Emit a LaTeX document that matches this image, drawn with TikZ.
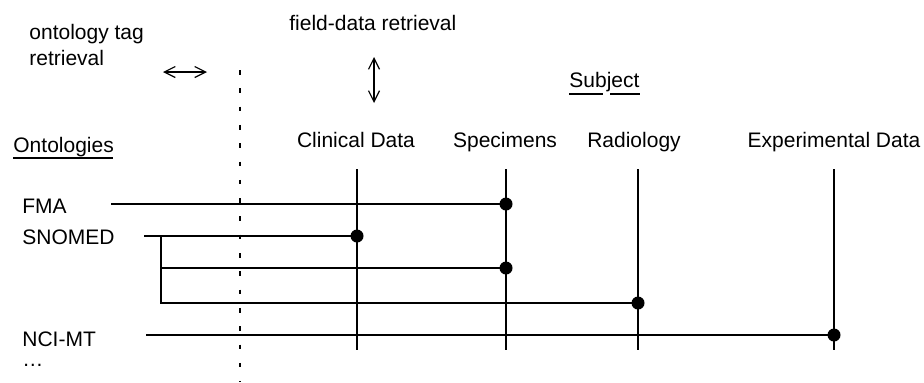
\documentclass[tikz,border=0pt]{standalone}
\usepackage{fontspec}
\setmainfont{Liberation Sans}
\usetikzlibrary{arrows.meta}
\begin{document}
\begin{tikzpicture}[x=0.5pt,y=-0.5pt,
  lbl/.style={inner sep=0pt, font=\fontsize{10.5}{13}\selectfont},
  wire/.style={line width=0.75pt},
  uline/.style={line width=0.6pt},
  sep/.style={line width=0.8pt, dash pattern=on 2.3pt off 6.85pt},
  dbl/.style={line width=0.6pt, {Straight Barb[length=5.5pt,width=5.5pt]}-{Straight Barb[length=5.5pt,width=5.5pt]}},
  dotn/.style={circle, fill=black, inner sep=0pt, minimum size=6.5pt}]
\useasboundingbox (0,0) rectangle (924,382);
% top labels
\node[lbl, anchor=base west] (fdr) at (289,30) {field-data retrieval};
\node[lbl, anchor=base west, align=left] (otr) at (29,65) {ontology tag\\retrieval};
\coordinate (ha1) at (163,72); \coordinate (ha2) at (207,72);
\draw[dbl] (ha1) -- (ha2);
\coordinate (va1) at (374,57); \coordinate (va2) at (374,103);
\draw[dbl] (va1) -- (va2);
% separator
\coordinate (s1) at (240,70); \coordinate (s2) at (240,382);
\draw[sep] (s1) -- (s2);
% headings
\node[lbl, anchor=base west] (ont) at (13,152) {Ontologies};
\draw[uline] (13,158) -- (113,158);
\node[lbl, anchor=base west] (subj) at (569,87) {Subject};
\draw[uline] (569,94) -- (603,94);
\draw[uline] (610,94) -- (640,94);
% column labels
\node[lbl, anchor=base] (clin) at (356,147) {Clinical Data};
\node[lbl, anchor=base] (spec) at (505,147) {Specimens};
\node[lbl, anchor=base] (radi) at (634,147) {Radiology};
\node[lbl, anchor=base] (expd) at (834,147) {Experimental Data};
% column lines
\coordinate (clinT) at (357,169); \coordinate (clinB) at (357,350);
\coordinate (specT) at (506,169); \coordinate (specB) at (506,350);
\coordinate (radiT) at (638,169); \coordinate (radiB) at (638,350);
\coordinate (expdT) at (834,169); \coordinate (expdB) at (834,350);
\draw[wire] (clinT) -- (clinB);
\draw[wire] (specT) -- (specB);
\draw[wire] (radiT) -- (radiB);
\draw[wire] (expdT) -- (expdB);
% row labels
\node[lbl, anchor=base west] (fma) at (22,213) {FMA};
\node[lbl, anchor=base west] (snomed) at (22,244) {SNOMED};
\node[lbl, anchor=base west] (nci) at (22,346) {NCI-MT};
\node[lbl, anchor=base west] (more) at (22,366) {…};
% dots
\node[dotn] (d1) at (506,204) {};
\node[dotn] (d2) at (357,236) {};
\node[dotn] (d3) at (506,268) {};
\node[dotn] (d4) at (638,303) {};
\node[dotn] (d5) at (834,335) {};
% row lines
\coordinate (fmaS) at (111,204);
\coordinate (snoS) at (144,236);
\coordinate (brT) at (161,236);
\coordinate (brM) at (161,268);
\coordinate (brB) at (161,303);
\coordinate (nciS) at (146,335);
\draw[wire] (fmaS) -- (d1.center);
\draw[wire] (snoS) -- (d2.center);
\draw[wire] (brT) -- (brB) -- (d4.center);
\draw[wire] (brM) -- (d3.center);
\draw[wire] (nciS) -- (d5.center);
\end{tikzpicture}
\end{document}
